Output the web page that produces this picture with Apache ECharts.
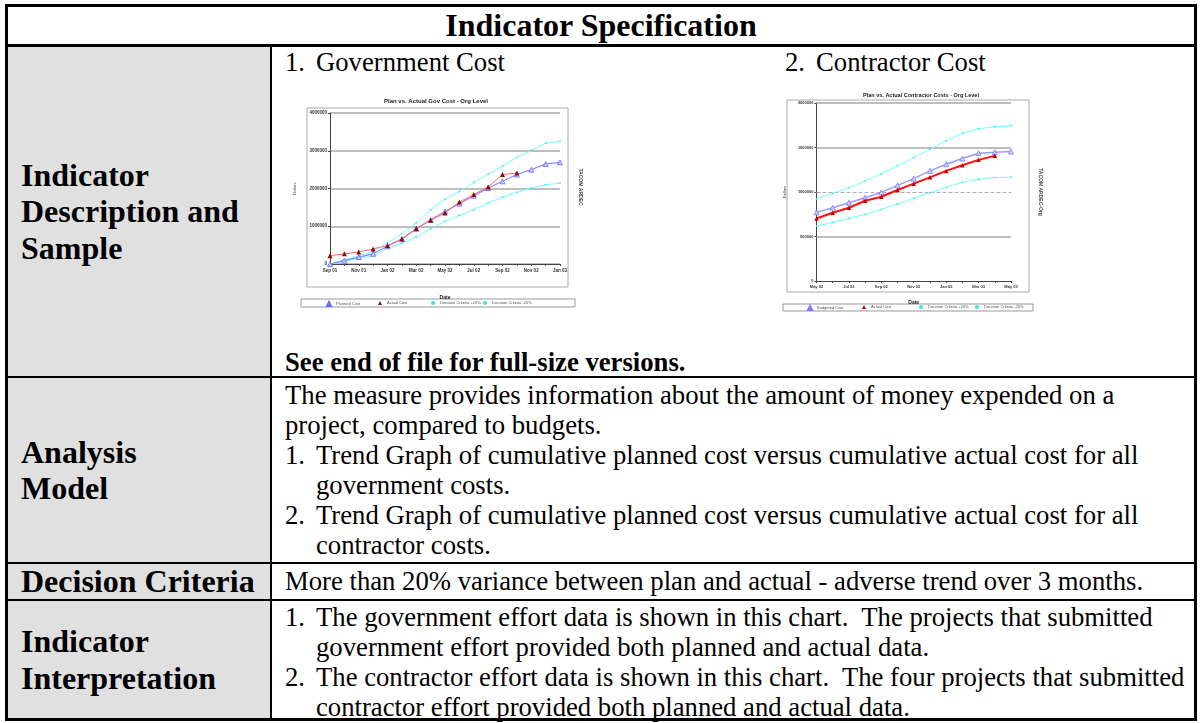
<!DOCTYPE html>
<html>
<head>
<meta charset="utf-8">
<script src="https://cdn.jsdelivr.net/npm/echarts/dist/echarts.min.js"></script>
<style>
  html, body { margin:0; padding:0; background:#fff; }
  body { width:1202px; height:723px; position:relative; overflow:hidden;
         font-family:"Liberation Serif","Times New Roman",serif; color:#000; }
  .abs { position:absolute; }
  .t { position:absolute; font-size:26.7px; line-height:30px; white-space:nowrap; }
  .b { font-weight:bold; }
  .lbl { font-weight:bold; font-size:32px; line-height:36.5px; }
  .cell { position:absolute; display:flex; align-items:center; padding-left:13px; box-sizing:border-box; }
  .num { display:inline-block; width:31px; }
</style>
</head>
<body>
<!-- table background & rules -->
<div class="abs" style="left:8px;top:47px;width:262px;height:671px;background:#e0e0e0"></div>
<div class="abs" style="left:5px;top:4px;width:1192px;height:717px;border:3px solid #000;box-sizing:border-box"></div>
<div class="abs" style="left:5px;top:44px;width:1192px;height:3px;background:#000"></div>
<div class="abs" style="left:270px;top:47px;width:2px;height:671px;background:#000"></div>
<div class="abs" style="left:5px;top:376px;width:1192px;height:2px;background:#000"></div>
<div class="abs" style="left:5px;top:562px;width:1192px;height:2px;background:#000"></div>
<div class="abs" style="left:5px;top:599px;width:1192px;height:2px;background:#000"></div>

<!-- title -->
<div class="abs lbl" style="left:8px;top:7px;width:1186px;height:37px;line-height:37px;text-align:center">Indicator Specification</div>

<!-- left labels -->
<div class="cell lbl" style="left:8px;top:47px;width:262px;height:329px"><div>Indicator<br>Description and<br>Sample</div></div>
<div class="cell lbl" style="left:8px;top:378px;width:262px;height:184px"><div>Analysis<br>Model</div></div>
<div class="cell lbl" style="left:8px;top:564px;width:262px;height:35px"><div>Decision Criteria</div></div>
<div class="cell lbl" style="left:8px;top:601px;width:262px;height:117px"><div>Indicator<br>Interpretation</div></div>

<!-- row 1 right -->
<div class="t" style="left:285px;top:47px"><span class="num">1.</span>Government Cost</div>
<div class="t" style="left:785px;top:47px"><span class="num">2.</span>Contractor Cost</div>
<div class="t b" style="left:285px;top:347px">See end of file for full-size versions.</div>

<!-- row 2 right -->
<div class="t" style="left:285px;top:380px">The measure provides information about the amount of money expended on a</div>
<div class="t" style="left:285px;top:410px">project, compared to budgets.</div>
<div class="t" style="left:285px;top:440px"><span class="num">1.</span>Trend Graph of cumulative planned cost versus cumulative actual cost for all</div>
<div class="t" style="left:316px;top:470px">government costs.</div>
<div class="t" style="left:285px;top:500px"><span class="num">2.</span>Trend Graph of cumulative planned cost versus cumulative actual cost for all</div>
<div class="t" style="left:316px;top:530px">contractor costs.</div>

<!-- row 3 right -->
<div class="t" style="left:285px;top:566px">More than 20% variance between plan and actual - adverse trend over 3 months.</div>

<!-- row 4 right -->
<div class="t" style="left:285px;top:602px"><span class="num">1.</span>The government effort data is shown in this chart.&nbsp; The projects that submitted</div>
<div class="t" style="left:316px;top:632px">government effort provided both planned and actual data.</div>
<div class="t" style="left:285px;top:662px"><span class="num">2.</span>The contractor effort data is shown in this chart.&nbsp; The four projects that submitted</div>
<div class="t" style="left:316px;top:692px">contractor effort provided both planned and actual data.</div>

<!-- charts -->
<div id="c1" class="abs" style="left:283px;top:84px;width:305px;height:230px"></div>
<div id="c2" class="abs" style="left:775px;top:82px;width:280px;height:235px"></div>

<script>
// ---------- Chart 1 data: Government cost ----------
const govTitle = 'Plan vs. Actual Gov Cost - Org Level';
const govCategories = ['Sep 01','Oct 01','Nov 01','Dec 01','Jan 02','Feb 02','Mar 02','Apr 02','May 02','Jun 02','Jul 02','Aug 02','Sep 02','Oct 02','Nov 02','Dec 02','Jan 03'];
const govPlanned = [0, 90000, 180000, 270000, 470000, 660000, 930000, 1170000, 1390000, 1600000, 1810000, 2010000, 2190000, 2370000, 2500000, 2650000, 2690000];
const govActual  = [220000, 270000, 320000, 400000, 490000, 660000, 940000, 1160000, 1350000, 1640000, 1840000, 2040000, 2370000, 2410000];
const govPlus20  = [0, 110000, 215000, 330000, 560000, 800000, 1090000, 1440000, 1720000, 1920000, 2160000, 2380000, 2600000, 2820000, 3010000, 3200000, 3250000];
const govMinus20 = [0, 70000, 145000, 220000, 420000, 550000, 710000, 930000, 1130000, 1290000, 1440000, 1620000, 1770000, 1900000, 2010000, 2100000, 2140000];
const govSeriesNames = ['Planned Cost','Actual Cost','Decision Criteria +20%','Decision Criteria -20%'];
const govSideLabel = 'TACOM ARDEC';

// ---------- Chart 2 data: Contractor cost ----------
const conTitle = 'Plan vs. Actual Contractor Costs - Org Level';
const conCategories = ['May 02','Jun 02','Jul 02','Aug 02','Sep 02','Oct 02','Nov 02','Dec 02','Jan 03','Feb 03','Mar 03','Apr 03','May 03'];
const conBudgeted = [771000, 823000, 880000, 936000, 996000, 1075000, 1150000, 1237000, 1312000, 1376000, 1436000, 1447000, 1455000];
const conActual   = [703000, 767000, 823000, 902000, 947000, 1023000, 1094000, 1165000, 1237000, 1301000, 1361000, 1406000];
const conPlus20   = [921000, 985000, 1049000, 1124000, 1203000, 1297000, 1387000, 1481000, 1575000, 1662000, 1711000, 1733000, 1745000];
const conMinus20  = [617000, 658000, 703000, 748000, 805000, 865000, 929000, 993000, 1053000, 1109000, 1143000, 1162000, 1168000];
const conSeriesNames = ['Budgeted Cost','Actual Cost','Decision Criteria +20%','Decision Criteria -20%'];
const conSideLabel = 'TACOM ARDEC-Org';
const conGridValues = [500000, 1000000, 1500000, 2000000];

const SANS = '"Liberation Sans", Arial, sans-serif';
const rawNumber = v => String(v);

function legendItem(name, left, top, icon) {
  return { data:[{name:name, icon:icon}], left:left, top:top, orient:'horizontal',
           itemWidth:4, itemHeight:4, itemGap:2, padding:0,
           textStyle:{fontSize:4, color:'#555', fontFamily:SANS} };
}

// ---------- Chart 1 ----------
const c1 = echarts.init(document.getElementById('c1'));
c1.setOption({
  animation:false,
  title:{ text:govTitle, left:148, top:9, textAlign:'center',
          textStyle:{fontSize:6, fontWeight:'bold', color:'#222', fontFamily:SANS} },
  grid:{ left:47, top:29, width:230, height:151 },
  legend:[
    legendItem(govSeriesNames[0], 43, 217, 'triangle'),
    legendItem(govSeriesNames[1], 95, 217, 'triangle'),
    legendItem(govSeriesNames[2], 148, 217, 'circle'),
    legendItem(govSeriesNames[3], 200, 217, 'circle')
  ],
  xAxis:{ type:'category', data:govCategories, boundaryGap:false,
          axisLine:{lineStyle:{color:'#444', width:1}},
          axisTick:{show:true, interval:0, length:2, lineStyle:{color:'#444'}},
          axisLabel:{interval:1, fontSize:4.5, fontWeight:'bold', color:'#333', margin:4, fontFamily:SANS},
          name:'Date', nameLocation:'middle', nameGap:31,
          nameTextStyle:{fontSize:5, fontWeight:'bold', color:'#222', fontFamily:SANS},
          splitLine:{show:false} },
  yAxis:{ type:'value', min:0, max:4000000, interval:1000000,
          axisLine:{show:true, lineStyle:{color:'#444', width:1}},
          axisTick:{show:true, length:2, lineStyle:{color:'#444'}},
          axisLabel:{fontSize:4.5, fontWeight:'bold', color:'#333', margin:3, fontFamily:SANS, formatter:rawNumber},
          splitLine:{show:true, lineStyle:{color:'#a8a8a8', width:1.5}},
          name:'Dollars', nameLocation:'middle', nameGap:33, nameRotate:90,
          nameTextStyle:{fontSize:4, color:'#333', fontFamily:SANS} },
  series:[
    { name:govSeriesNames[2], type:'line', data:govPlus20, z:2, symbol:'circle', symbolSize:1.8,
      itemStyle:{color:'#44e0e0'}, lineStyle:{color:'#70ffff', width:1} },
    { name:govSeriesNames[3], type:'line', data:govMinus20, z:2, symbol:'circle', symbolSize:1.8,
      itemStyle:{color:'#44e0e0'}, lineStyle:{color:'#70ffff', width:1} },
    { name:govSeriesNames[0], type:'line', data:govPlanned, z:3, symbol:'triangle', symbolSize:5,
      itemStyle:{color:'#c8c8ff', borderColor:'#6a6aff', borderWidth:0.8}, lineStyle:{color:'#8a8aff', width:1.2} },
    { name:govSeriesNames[1], type:'line', data:govActual, z:4, symbol:'triangle', symbolSize:5,
      itemStyle:{color:'#8b0a0a'}, lineStyle:{color:'#ff6a6a', width:1} }
  ],
  graphic:[
    { type:'rect', shape:{x:24, y:24, width:261, height:179}, style:{fill:'rgba(0,0,0,0)', stroke:'#aaa', lineWidth:1}, z:-10 },
    { type:'rect', shape:{x:18, y:215, width:274, height:8}, style:{fill:'rgba(0,0,0,0)', stroke:'#999', lineWidth:1}, z:-10 },
    { type:'text', x:297, y:103, rotation:-Math.PI/2,
      style:{text:govSideLabel, fontSize:5, fontWeight:'bold', fill:'#444', fontFamily:SANS,
             align:'center', verticalAlign:'middle', textAlign:'center', textVerticalAlign:'middle'} }
  ]
});

// ---------- Chart 2 ----------
const c2 = echarts.init(document.getElementById('c2'));
const gridStyles = [
  {color:'#a8a8a8', width:1.5, type:'solid'},
  {color:'#b0b0b0', width:1, type:'dashed'},
  {color:'#a8a8a8', width:1.5, type:'solid'},
  {color:'#a8a8a8', width:1.5, type:'solid'}
];
c2.setOption({
  animation:false,
  title:{ text:conTitle, left:141, top:5, textAlign:'center',
          textStyle:{fontSize:5.5, fontWeight:'bold', color:'#222', fontFamily:SANS} },
  grid:{ left:30, top:21, width:206, height:178 },
  legend:[
    legendItem(conSeriesNames[0], 32, 223, 'triangle'),
    legendItem(conSeriesNames[1], 87, 223, 'triangle'),
    legendItem(conSeriesNames[2], 144, 223, 'circle'),
    legendItem(conSeriesNames[3], 200, 223, 'circle')
  ],
  xAxis:{ type:'category', data:conCategories, boundaryGap:false,
          axisLine:{lineStyle:{color:'#444', width:1}},
          axisTick:{show:true, interval:0, length:2, lineStyle:{color:'#444'}},
          axisLabel:{interval:1, fontSize:4, fontWeight:'bold', color:'#333', margin:4, fontFamily:SANS},
          name:'Date', nameLocation:'middle', nameGap:19,
          nameTextStyle:{fontSize:5, fontWeight:'bold', color:'#222', fontFamily:SANS},
          splitLine:{show:false} },
  yAxis:{ type:'value', min:0, max:2000000, interval:500000,
          axisLine:{show:true, lineStyle:{color:'#444', width:1}},
          axisTick:{show:true, length:2, lineStyle:{color:'#444'}},
          axisLabel:{fontSize:4, fontWeight:'bold', color:'#333', margin:3, fontFamily:SANS, formatter:rawNumber},
          splitLine:{show:false},
          name:'Dollars', nameLocation:'middle', nameGap:27, nameRotate:90,
          nameTextStyle:{fontSize:4, color:'#333', fontFamily:SANS} },
  series:[
    { name:conSeriesNames[3], type:'line', data:conMinus20, z:2, symbol:'circle', symbolSize:1.8,
      itemStyle:{color:'#44e0e0'}, lineStyle:{color:'#70ffff', width:1},
      markLine:{ silent:true, symbol:'none', label:{show:false}, z:1,
                 data: conGridValues.map((v,i) => ({yAxis:v, lineStyle:gridStyles[i]})) } },
    { name:conSeriesNames[2], type:'line', data:conPlus20, z:2, symbol:'circle', symbolSize:1.8,
      itemStyle:{color:'#44e0e0'}, lineStyle:{color:'#70ffff', width:1} },
    { name:conSeriesNames[0], type:'line', data:conBudgeted, z:3, symbol:'triangle', symbolSize:5,
      itemStyle:{color:'#d0d0ff', borderColor:'#7a7aff', borderWidth:0.8}, lineStyle:{color:'#9a9aff', width:1.5} },
    { name:conSeriesNames[1], type:'line', data:conActual, z:4, symbol:'triangle', symbolSize:4.5,
      itemStyle:{color:'#c00000'}, lineStyle:{color:'#ff1010', width:2} }
  ],
  graphic:[
    { type:'rect', shape:{x:12, y:18, width:242, height:192}, style:{fill:'rgba(0,0,0,0)', stroke:'#aaa', lineWidth:1}, z:-10 },
    { type:'rect', shape:{x:8, y:222, width:250, height:7}, style:{fill:'rgba(0,0,0,0)', stroke:'#999', lineWidth:1}, z:-10 },
    { type:'text', x:265, y:110, rotation:-Math.PI/2,
      style:{text:conSideLabel, fontSize:5, fontWeight:'bold', fill:'#444', fontFamily:SANS,
             align:'center', verticalAlign:'middle', textAlign:'center', textVerticalAlign:'middle'} }
  ]
});
</script>
</body>
</html>
